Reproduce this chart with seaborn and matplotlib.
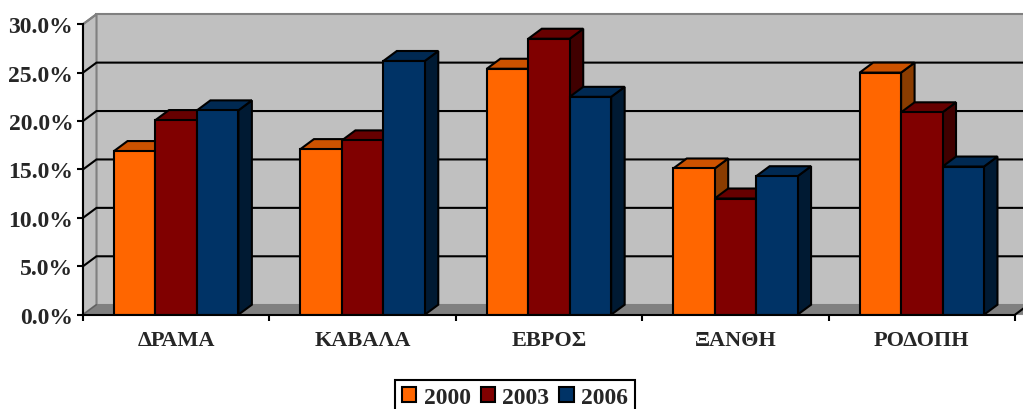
import matplotlib
matplotlib.use('Agg')
import matplotlib.pyplot as plt
import pandas as pd
import seaborn as sns
from matplotlib.patches import Polygon

# τιμές ανά νομό
nomoi = ['ΔΡΑΜΑ', 'ΚΑΒΑΛΑ', 'ΕΒΡΟΣ', 'ΞΑΝΘΗ', 'ΡΟΔΟΠΗ']
etos_2000 = [16.9, 17.1, 25.4, 15.1, 25.0]
etos_2003 = [20.1, 18.0, 28.5, 12.0, 20.9]
etos_2006 = [21.1, 26.2, 22.5, 14.3, 15.3]
y_ticks = [0, 5, 10, 15, 20, 25, 30]

# χρώματα: μπροστά, πάνω, πλάι
colors = {'2000': ('#FF6600', '#CC5200', '#8A3C00'),
          '2003': ('#800000', '#660000', '#400000'),
          '2006': ('#003366', '#002952', '#001A33')}

df = pd.DataFrame({'nomos': nomoi, '2000': etos_2000, '2003': etos_2003, '2006': etos_2006})
df = df.melt(id_vars='nomos', var_name='etos', value_name='pososto')

sns.set_style('white')
plt.rcParams['font.family'] = ['Liberation Serif', 'DejaVu Serif']
plt.rcParams['font.weight'] = 'bold'

W, H = 1023, 410
fig = plt.figure(figsize=(W / 100, H / 100), dpi=100)
ax = fig.add_axes([83 / W, 1 - 315.7 / H, 932 / W, 290.5 / H])

sns.barplot(data=df, x='nomos', y='pososto', hue='etos', order=nomoi,
            palette={k: v[0] for k, v in colors.items()}, width=0.667, gap=0,
            edgecolor='black', linewidth=1.5, saturation=1, ax=ax, zorder=5)

ax.set_xlim(-0.5, 4.5)
ax.set_ylim(0, 30)

# βάθος του ψευδο-3D σε μονάδες δεδομένων
dx = 13.5 / (932 / 5)
dy = 10 / (290.5 / 30)
kw = dict(clip_on=False)

# πίσω τοίχος, αριστερός τοίχος, δάπεδο
ax.add_patch(Polygon([(-0.5 + dx, dy), (5, dy), (5, 30 + dy), (-0.5 + dx, 30 + dy)],
                     fc='#C0C0C0', ec='#808080', lw=1.5, zorder=1, **kw))
ax.add_patch(Polygon([(-0.5, 0), (-0.5 + dx, dy), (-0.5 + dx, 30 + dy), (-0.5, 30)],
                     fc='#C0C0C0', ec='#808080', lw=1.5, zorder=1, **kw))
ax.add_patch(Polygon([(-0.5, 0), (-0.5 + dx, dy), (5, dy), (5, 0)],
                     fc='#808080', ec='#808080', lw=0.5, zorder=1, **kw))

# γραμμές πλέγματος
for t in y_ticks[1:-1]:
    ax.plot([-0.5, -0.5 + dx, 5], [t, t + dy, t + dy], color='black', lw=1.5,
            zorder=2, solid_joinstyle='miter', **kw)
ax.plot([-0.5, -0.5 + dx], [30, 30 + dy], color='#808080', lw=1.5, zorder=2, **kw)
ax.plot([-0.5, -0.5 + dx], [0, dy], color='#606060', lw=1, zorder=2, **kw)
ax.plot([4.5, 4.5 + dx], [0, dy], color='black', lw=1.5, zorder=6, **kw)

# πλευρές και κορυφές κάθε μπάρας, από αριστερά προς τα δεξιά
keys = list(colors)
bars = []
for container, key in zip(ax.containers, keys):
    bars += [(b, key) for b in container]
bars.sort(key=lambda p: p[0].get_x())

z = 5
for b, key in bars:
    x0, x1, h = b.get_x(), b.get_x() + b.get_width(), b.get_height()
    top = Polygon([(x0, h), (x0 + dx, h + dy), (x1 + dx, h + dy), (x1, h)],
                  fc=colors[key][1], ec='black', lw=1.5, zorder=z, joinstyle='miter')
    side = Polygon([(x1, 0), (x1 + dx, dy), (x1 + dx, h + dy), (x1, h)],
                   fc=colors[key][2], ec='black', lw=1.5, zorder=z, joinstyle='miter')
    ax.add_patch(side)
    ax.add_patch(top)
    b.set_zorder(z + 0.5)
    z += 1

# άξονες
sns.despine(ax=ax, top=True, right=True)
for s in ['left', 'bottom']:
    ax.spines[s].set_linewidth(1.5)
    ax.spines[s].set_color('black')
    ax.spines[s].set_zorder(60)
ax.set_facecolor('none')

ax.set_yticks(y_ticks)
ax.set_yticklabels([f'{t:.1f}%' for t in y_ticks], fontsize=17, fontweight='bold')
ax.tick_params(axis='y', length=4, width=1.5, color='black', pad=3, left=True)

ax.set_xticks([i - 0.5 for i in range(6)])
ax.set_xticklabels([])
ax.set_xticks(range(5), minor=True)
ax.set_xticklabels(nomoi, minor=True, fontsize=16, fontweight='bold')
ax.tick_params(axis='x', which='major', length=4, width=1.5, color='black', bottom=True)
ax.tick_params(axis='x', which='minor', length=0, pad=11, bottom=True)
ax.set_xlabel('')
ax.set_ylabel('')

# υπόμνημα: το κάτω μέρος του πλαισίου κόβεται στην άκρη της εικόνας, όπως στο πρωτότυπο
handles, labels = ax.get_legend_handles_labels()
ax.legend(handles, labels, ncol=3, loc='lower left', bbox_to_anchor=(395 / W, -6 / H),
          bbox_transform=fig.transFigure, frameon=True, fancybox=False, edgecolor='black',
          framealpha=1, prop={'weight': 'bold', 'size': 17},
          handlelength=0.6, handleheight=0.6, handletextpad=0.32, columnspacing=0.42,
          borderpad=0.3, borderaxespad=0).get_frame().set_linewidth(1.5)

fig.savefig('out.png', dpi=100)
